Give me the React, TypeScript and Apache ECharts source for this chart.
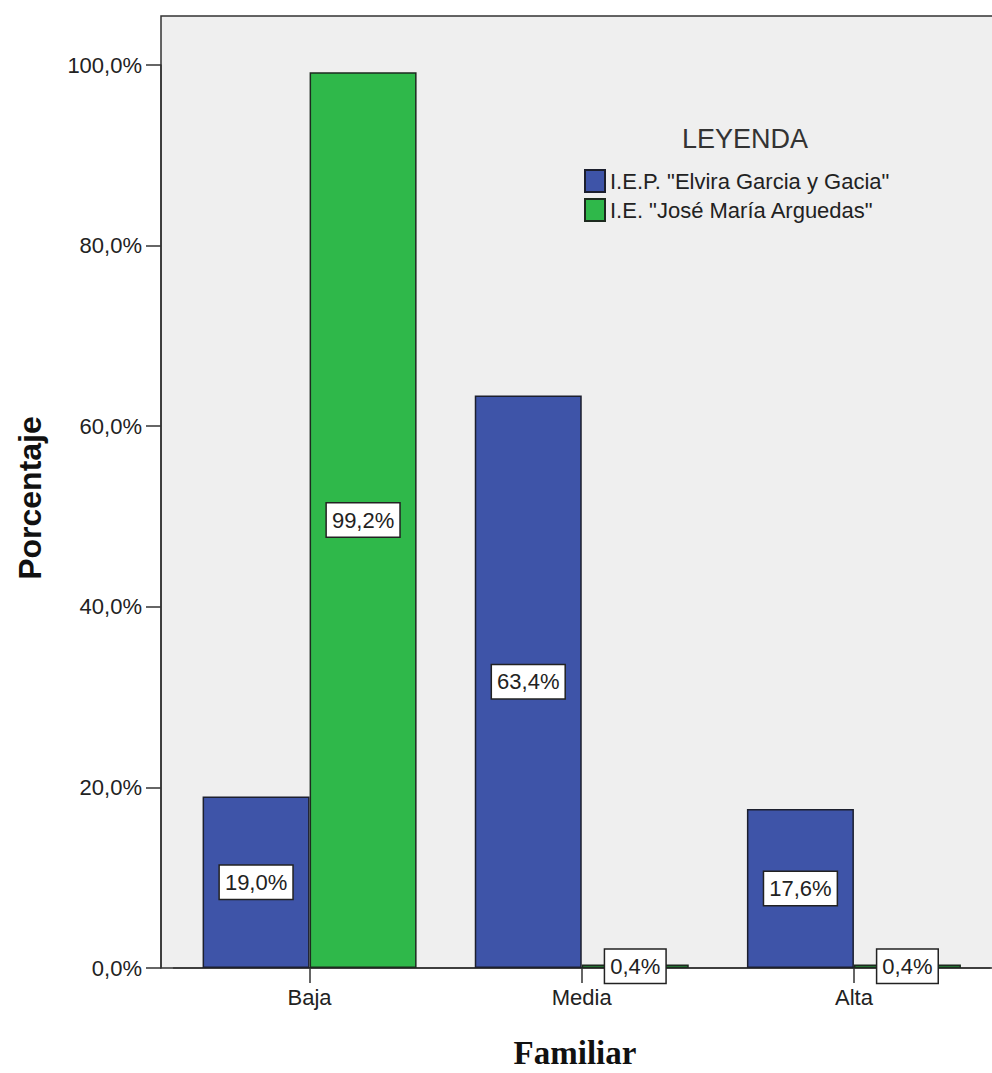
import React, { useEffect, useRef } from "react";
import * as echarts from "echarts";

// Nivel de participación familiar por institución educativa (%)
const categories = ["Baja", "Media", "Alta"];
const seriesNames = ['I.E.P. "Elvira Garcia y Gacia"', 'I.E. "José María Arguedas"'];
const elviraValues = [19.0, 63.4, 17.6];
const arguedasValues = [99.2, 0.4, 0.4];
const yTickValues = [0, 20, 40, 60, 80, 100];

const FONT = "'Liberation Sans', Arial, sans-serif";
const BLUE = "#3e54a8";
const GREEN = "#2fb84a";
const INK = "#222222";
const FRAME = "#333333";

const pct = (v: number) => v.toFixed(1).replace(".", ",") + "%";

export default function App() {
  const ref = useRef<HTMLDivElement>(null);

  useEffect(() => {
    if (!ref.current) return;
    const chart = echarts.init(ref.current, undefined, { renderer: "svg" });

    const barLabel = {
      show: true,
      position: "inside" as const,
      formatter: (p: any) => pct(p.value),
      color: INK,
      fontFamily: FONT,
      fontSize: 22,
      backgroundColor: "#ffffff",
      borderColor: INK,
      borderWidth: 1.5,
      padding: [6, 5, 5, 5],
    };

    chart.setOption({
      animation: false,
      backgroundColor: "#ffffff",
      grid: { left: 173.5, right: 2, top: 65, bottom: 105, containLabel: false },
      graphic: [
        {
          type: "rect",
          z: -10,
          shape: { x: 161, y: 16, width: 860, height: 952 },
          style: { fill: "#efefef", stroke: FRAME, lineWidth: 1.5 },
        },
        {
          type: "text",
          x: 745,
          y: 139,
          style: {
            text: "LEYENDA",
            align: "center",
            verticalAlign: "middle",
            font: `27px ${FONT}`,
            fill: "#333333",
          },
        },
        {
          type: "text",
          x: 30,
          y: 498,
          rotation: Math.PI / 2,
          style: {
            text: "Porcentaje",
            align: "center",
            verticalAlign: "middle",
            font: `bold 32px ${FONT}`,
            fill: "#111111",
          },
        },
        {
          type: "text",
          x: 575,
          y: 1053,
          style: {
            text: "Familiar",
            align: "center",
            verticalAlign: "middle",
            font: `bold 33px 'Liberation Serif', 'Times New Roman', serif`,
            fill: "#111111",
          },
        },
      ],
      legend: {
        orient: "vertical",
        left: 584,
        top: 169,
        padding: 0,
        itemWidth: 20,
        itemHeight: 22,
        itemGap: 5,
        icon: "rect",
        data: seriesNames,
        textStyle: { fontFamily: FONT, fontSize: 22, color: INK },
      },
      xAxis: {
        type: "category",
        data: categories,
        axisLine: { show: true, lineStyle: { color: FRAME, width: 1.5 } },
        axisTick: { show: true, alignWithLabel: true, length: 15, lineStyle: { color: FRAME, width: 1.5 } },
        axisLabel: { margin: 18, fontFamily: FONT, fontSize: 22, color: INK },
        splitLine: { show: false },
      },
      yAxis: {
        type: "value",
        min: 0,
        max: 100,
        interval: 20,
        offset: 12.5,
        axisLine: { show: true, lineStyle: { color: FRAME, width: 1.5 } },
        axisTick: { show: true, length: 15, lineStyle: { color: FRAME, width: 1.5 } },
        axisLabel: {
          margin: 19,
          fontFamily: FONT,
          fontSize: 22,
          color: INK,
          formatter: (v: number) => (yTickValues.includes(v) ? pct(v) : ""),
        },
        splitLine: { show: false },
      },
      series: [
        {
          name: seriesNames[0],
          type: "bar",
          data: elviraValues,
          barWidth: 107,
          barGap: "0%",
          itemStyle: { color: BLUE, borderColor: "#1c1f2e", borderWidth: 1.5 },
          label: barLabel,
        },
        {
          name: seriesNames[1],
          type: "bar",
          data: arguedasValues,
          barWidth: 107,
          barGap: "0%",
          itemStyle: { color: GREEN, borderColor: "#1d2a1f", borderWidth: 1.5 },
          label: barLabel,
        },
      ],
    });

    return () => chart.dispose();
  }, []);

  return (
    <div
      ref={ref}
      style={{ position: "absolute", left: 0, top: 0, width: 992, height: 1073 }}
    />
  );
}
